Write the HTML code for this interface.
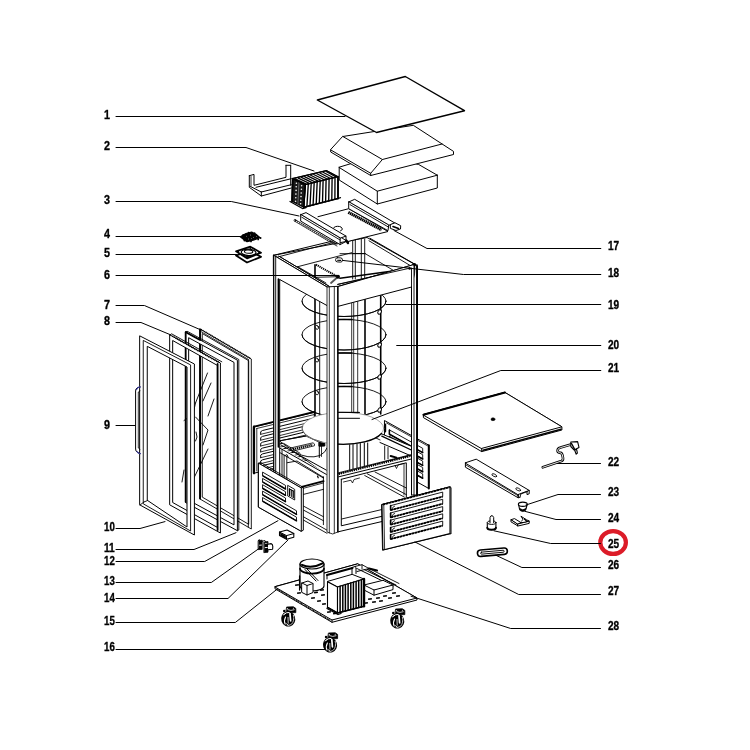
<!DOCTYPE html>
<html><head><meta charset="utf-8"><title>Exploded view</title>
<style>
html,body{margin:0;padding:0;background:#fff;}
body{width:750px;height:750px;overflow:hidden;font-family:"Liberation Sans",sans-serif;}
svg{display:block;}
.lb{font-family:"Liberation Sans",sans-serif;font-weight:bold;font-size:13.3px;fill:#000;stroke:#000;stroke-width:0.35px;}
</style></head><body>
<svg width="750" height="750" viewBox="0 0 750 750" stroke-linejoin="round" stroke-linecap="round">
<rect width="750" height="750" fill="#fff"/>
<defs><filter id="gs" x="0" y="0" width="750" height="750" filterUnits="userSpaceOnUse" color-interpolation-filters="sRGB"><feColorMatrix type="saturate" values="0"/></filter></defs><g filter="url(#gs)">
<text class="lb" x="104.0" y="119.0" textLength="6.0" lengthAdjust="spacingAndGlyphs">1</text>
<text class="lb" x="104.0" y="149.6" textLength="6.0" lengthAdjust="spacingAndGlyphs">2</text>
<text class="lb" x="104.0" y="203.6" textLength="6.0" lengthAdjust="spacingAndGlyphs">3</text>
<text class="lb" x="104.0" y="238.0" textLength="6.0" lengthAdjust="spacingAndGlyphs">4</text>
<text class="lb" x="104.0" y="257.0" textLength="6.0" lengthAdjust="spacingAndGlyphs">5</text>
<text class="lb" x="104.0" y="279.0" textLength="6.0" lengthAdjust="spacingAndGlyphs">6</text>
<text class="lb" x="104.0" y="309.0" textLength="6.0" lengthAdjust="spacingAndGlyphs">7</text>
<text class="lb" x="104.0" y="325.0" textLength="6.0" lengthAdjust="spacingAndGlyphs">8</text>
<text class="lb" x="104.0" y="429.0" textLength="6.0" lengthAdjust="spacingAndGlyphs">9</text>
<text class="lb" x="104.0" y="531.3" textLength="10.8" lengthAdjust="spacingAndGlyphs">10</text>
<text class="lb" x="104.0" y="552.0" textLength="10.8" lengthAdjust="spacingAndGlyphs">11</text>
<text class="lb" x="104.0" y="564.7" textLength="10.8" lengthAdjust="spacingAndGlyphs">12</text>
<text class="lb" x="104.0" y="585.0" textLength="10.8" lengthAdjust="spacingAndGlyphs">13</text>
<text class="lb" x="104.0" y="602.0" textLength="10.8" lengthAdjust="spacingAndGlyphs">14</text>
<text class="lb" x="104.0" y="625.0" textLength="10.8" lengthAdjust="spacingAndGlyphs">15</text>
<text class="lb" x="104.0" y="651.0" textLength="10.8" lengthAdjust="spacingAndGlyphs">16</text>
<text class="lb" x="608.0" y="249.9" textLength="11.2" lengthAdjust="spacingAndGlyphs">17</text>
<text class="lb" x="608.0" y="276.8" textLength="11.2" lengthAdjust="spacingAndGlyphs">18</text>
<text class="lb" x="608.0" y="308.5" textLength="11.2" lengthAdjust="spacingAndGlyphs">19</text>
<text class="lb" x="608.0" y="348.8" textLength="11.2" lengthAdjust="spacingAndGlyphs">20</text>
<text class="lb" x="608.0" y="371.5" textLength="11.2" lengthAdjust="spacingAndGlyphs">21</text>
<text class="lb" x="608.0" y="466.0" textLength="11.2" lengthAdjust="spacingAndGlyphs">22</text>
<text class="lb" x="608.0" y="495.9" textLength="11.2" lengthAdjust="spacingAndGlyphs">23</text>
<text class="lb" x="608.0" y="522.0" textLength="11.2" lengthAdjust="spacingAndGlyphs">24</text>
<text class="lb" x="608.0" y="547.9" textLength="11.2" lengthAdjust="spacingAndGlyphs">25</text>
<text class="lb" x="608.0" y="568.7" textLength="11.2" lengthAdjust="spacingAndGlyphs">26</text>
<text class="lb" x="608.0" y="595.3" textLength="11.2" lengthAdjust="spacingAndGlyphs">27</text>
<text class="lb" x="608.0" y="630.0" textLength="11.2" lengthAdjust="spacingAndGlyphs">28</text>
</g>
<ellipse cx="613.1" cy="542.5" rx="12.8" ry="11.4" fill="none" stroke="#dc1c28" stroke-width="4.2"/>
<path d="M339.2 167.5 L377.3 191.2 L437.3 175.2 L418.7 164.5 L380.0 155.0 Z" fill="#fff" stroke="#000" stroke-width="1" />
<path d="M339.2 167.5 L339.2 180.0 L377.3 204.0 L437.3 188.0 L437.3 175.2" fill="#fff" stroke="#000" stroke-width="1" />
<path d="M339.2 167.5 L377.3 191.2 L437.3 175.2" fill="none" stroke="#000" stroke-width="1" />
<path d="M377.3 191.2 L377.3 204.0" fill="none" stroke="#000" stroke-width="1" />
<path d="M330.7 149.9 L330.7 152.0 L370.7 175.5 L453.5 154.5 L453.5 151.4 L413.3 125.3 L342.9 136.5 Z" fill="#fff" stroke="#000" stroke-width="1" />
<path d="M342.9 136.5 L382.4 159.5 L442.0 144.0" fill="none" stroke="#000" stroke-width="1" />
<path d="M330.7 149.9 L370.7 173.3" fill="none" stroke="#000" stroke-width="1" />
<path d="M382.4 159.5 L370.7 173.3 L370.7 175.5" fill="none" stroke="#000" stroke-width="1" />
<path d="M317.3 100.0 L405.3 76.5 L464.5 110.7 L376.5 132.5 Z" fill="#fff" stroke="#000" stroke-width="1.4" />
<path d="M249.3 175.7 L254.0 174.4 L254.0 185.3 L286.0 177.3 L286.0 165.3" fill="none" stroke="#000" stroke-width="1" />
<path d="M290.7 165.3 L290.7 185.3" fill="none" stroke="#000" stroke-width="1" />
<path d="M286.0 165.3 L290.7 165.3" fill="none" stroke="#000" stroke-width="1" />
<path d="M249.3 175.7 L249.3 187.3 L261.3 196.0 L291.3 188.0" fill="none" stroke="#000" stroke-width="1" />
<path d="M261.3 192.0 L291.3 184.7" fill="none" stroke="#000" stroke-width="1" />
<path d="M261.3 192.0 L261.3 196.0" fill="none" stroke="#000" stroke-width="1" />
<path d="M250.5 186.5 L261.3 192.0" fill="none" stroke="#000" stroke-width="1" />
<path d="M256.0 187.3 L291.3 178.7" fill="none" stroke="#000" stroke-width="1" />
<path d="M251.0 176.5 L251.0 186.0" fill="none" stroke="#000" stroke-width="0.8" />
<path d="M292.7 178.7 L305.3 184.7 L338.0 176.7 L326.7 170.7 Z" fill="#fff" stroke="#000" stroke-width="1" />
<path d="M305.3 184.7 L303.8 207.3 L338.0 198.5 L338.0 176.7 Z" fill="#fff" stroke="#000" stroke-width="1.2" />
<path d="M292.7 178.7 L292.0 201.3 L303.8 207.3 L305.3 184.7 Z" fill="#1a1a1a" stroke="#000" stroke-width="1.2" />
<ellipse cx="296.4" cy="183.2" rx="0.8" ry="0.8" fill="#fff" stroke="none" stroke-width="0"/>
<ellipse cx="296.2" cy="186.8" rx="0.8" ry="0.8" fill="#fff" stroke="none" stroke-width="0"/>
<ellipse cx="296.1" cy="190.4" rx="0.8" ry="0.8" fill="#fff" stroke="none" stroke-width="0"/>
<ellipse cx="295.9" cy="194.1" rx="0.8" ry="0.8" fill="#fff" stroke="none" stroke-width="0"/>
<ellipse cx="295.8" cy="197.7" rx="0.8" ry="0.8" fill="#fff" stroke="none" stroke-width="0"/>
<ellipse cx="295.6" cy="201.3" rx="0.8" ry="0.8" fill="#fff" stroke="none" stroke-width="0"/>
<ellipse cx="301.6" cy="185.7" rx="0.8" ry="0.8" fill="#fff" stroke="none" stroke-width="0"/>
<ellipse cx="301.4" cy="189.3" rx="0.8" ry="0.8" fill="#fff" stroke="none" stroke-width="0"/>
<ellipse cx="301.2" cy="193.0" rx="0.8" ry="0.8" fill="#fff" stroke="none" stroke-width="0"/>
<ellipse cx="301.0" cy="196.6" rx="0.8" ry="0.8" fill="#fff" stroke="none" stroke-width="0"/>
<ellipse cx="300.8" cy="200.2" rx="0.8" ry="0.8" fill="#fff" stroke="none" stroke-width="0"/>
<ellipse cx="300.6" cy="203.8" rx="0.8" ry="0.8" fill="#fff" stroke="none" stroke-width="0"/>
<path d="M299.0 181.7 L297.9 204.3" fill="none" stroke="#bbb" stroke-width="0.5" />
<path d="M308.3 184.0 L306.9 206.5" fill="none" stroke="#000" stroke-width="1.35" />
<path d="M311.2 183.2 L310.0 205.7" fill="none" stroke="#000" stroke-width="1.35" />
<path d="M314.2 182.5 L313.1 204.9" fill="none" stroke="#000" stroke-width="1.35" />
<path d="M317.2 181.8 L316.2 204.1" fill="none" stroke="#000" stroke-width="1.35" />
<path d="M320.2 181.1 L319.3 203.3" fill="none" stroke="#000" stroke-width="1.35" />
<path d="M323.1 180.3 L322.5 202.5" fill="none" stroke="#000" stroke-width="1.35" />
<path d="M326.1 179.6 L325.6 201.7" fill="none" stroke="#000" stroke-width="1.35" />
<path d="M329.1 178.9 L328.7 200.9" fill="none" stroke="#000" stroke-width="1.35" />
<path d="M332.1 178.2 L331.8 200.1" fill="none" stroke="#000" stroke-width="1.35" />
<path d="M335.0 177.4 L334.9 199.3" fill="none" stroke="#000" stroke-width="1.35" />
<path d="M305.8 183.9 L295.2 178.8" fill="none" stroke="#000" stroke-width="1.25" />
<path d="M308.8 183.1 L298.3 178.1" fill="none" stroke="#000" stroke-width="1.25" />
<path d="M311.7 182.4 L301.4 177.4" fill="none" stroke="#000" stroke-width="1.25" />
<path d="M314.7 181.7 L304.5 176.6" fill="none" stroke="#000" stroke-width="1.25" />
<path d="M317.7 180.9 L307.6 175.9" fill="none" stroke="#000" stroke-width="1.25" />
<path d="M320.7 180.2 L310.7 175.2" fill="none" stroke="#000" stroke-width="1.25" />
<path d="M323.7 179.5 L313.7 174.5" fill="none" stroke="#000" stroke-width="1.25" />
<path d="M326.7 178.8 L316.8 173.7" fill="none" stroke="#000" stroke-width="1.25" />
<path d="M329.6 178.0 L319.9 173.0" fill="none" stroke="#000" stroke-width="1.25" />
<path d="M332.6 177.3 L323.0 172.3" fill="none" stroke="#000" stroke-width="1.25" />
<path d="M335.6 176.6 L326.1 171.5" fill="none" stroke="#000" stroke-width="1.25" />
<path d="M292.7 178.7 L305.3 184.7 L338.0 176.7 L326.7 170.7 Z" fill="none" stroke="#000" stroke-width="1.3" />
<path d="M292.7 178.7 L292.0 201.3" fill="none" stroke="#000" stroke-width="1.8" />
<path d="M305.3 184.7 L303.8 207.3" fill="none" stroke="#000" stroke-width="1.4" />
<path d="M338.0 176.7 L338.0 198.5" fill="none" stroke="#000" stroke-width="1.8" />
<path d="M303.8 207.3 L338.0 198.5" fill="none" stroke="#000" stroke-width="1.4" />
<path d="M290.0 201.5 L302.5 208.6 L306.0 207.6" fill="none" stroke="#000" stroke-width="1.2" />
<path d="M338.0 198.5 L340.5 197.6" fill="none" stroke="#000" stroke-width="1.2" />
<path d="M200.0 329.0 L251.3 359.0 L251.3 529.0 L200.0 499.0 Z M202.6 333.7 L248.7 360.7 L248.7 524.3 L202.6 497.3 Z" fill="#fff" fill-rule="evenodd" stroke="#000" stroke-width="0.9"/>
<path d="M200.0 331.0 L248.5 359.5" fill="none" stroke="#000" stroke-width="0.8" />
<path d="M200.1 329.5 L200.1 498.5" fill="none" stroke="#000" stroke-width="1.8"/>
<path d="M248.3 360.0 L248.3 527.0" fill="none" stroke="#000" stroke-width="0.9"/>
<path d="M201.0 329.5 L250.5 358.5" fill="none" stroke="#000" stroke-width="1.5" stroke-dasharray="1 0.8" stroke-linecap="butt"/>
<path d="M185.6 332.0 L237.4 360.2 L237.4 530.7 L185.6 502.5 Z M189.0 337.9 L234.0 362.4 L234.0 524.9 L189.0 500.4 Z" fill="#fff" fill-rule="evenodd" stroke="#000" stroke-width="1.0"/>
<path d="M185.6 332.0 L187.0 331.2 L238.8 359.5 L238.8 530.0 L237.4 530.8" fill="none" stroke="#000" stroke-width="0.9" />
<path d="M185.8 332.5 L185.8 502.0" fill="none" stroke="#000" stroke-width="1.6"/>
<path d="M185.8 332.3 L200.0 340.0" fill="none" stroke="#000" stroke-width="1.8" />
<path d="M170.0 335.0 L220.4 363.0 L220.4 533.0 L170.0 505.0 Z M173.0 340.7 L217.4 365.4 L217.4 527.4 L173.0 502.7 Z" fill="#fff" fill-rule="evenodd" stroke="#000" stroke-width="1.0"/>
<path d="M217.6 364.0 L217.6 530.0" fill="none" stroke="#000" stroke-width="1.8"/>
<path d="M172.4 336.0 L219.0 362.5" fill="none" stroke="#000" stroke-width="1.7" stroke-dasharray="1 0.8" stroke-linecap="butt"/>
<path d="M170.0 335.0 L171.6 333.8 L221.8 361.8" fill="none" stroke="#000" stroke-width="0.9" />
<path d="M207.5 373.0 L195.5 403.0" fill="none" stroke="#000" stroke-width="0.9" />
<path d="M211.0 383.0 L203.0 401.0" fill="none" stroke="#000" stroke-width="0.9" />
<path d="M184.0 420.5 L187.0 418.5" fill="none" stroke="#000" stroke-width="0.9" />
<path d="M195.5 403.0 L190.0 428.0" fill="none" stroke="#000" stroke-width="0.9" />
<path d="M214.0 399.0 L208.0 416.0" fill="none" stroke="#000" stroke-width="0.9" />
<path d="M195.5 417.0 L208.0 430.0 L203.0 445.0" fill="none" stroke="#000" stroke-width="0.9" />
<path d="M196.0 432.0 L197.0 437.0 L195.5 441.0" fill="none" stroke="#000" stroke-width="0.9" />
<path d="M208.0 449.0 L192.0 482.0" fill="none" stroke="#000" stroke-width="0.9" />
<path d="M184.0 470.0 L182.0 482.0" fill="none" stroke="#000" stroke-width="0.9" />
<path d="M140.0 336.0 L194.4 364.0 L194.4 535.0 L140.0 505.0 Z M147.6 346.5 L187.0 367.0 L187.0 527.0 L147.6 500.5 Z" fill="#fff" fill-rule="evenodd" stroke="#000" stroke-width="1.0"/>
<path d="M143.6 340.6 L190.6 364.9 L190.6 531.0 L143.6 504.0 Z" fill="none" stroke="#000" stroke-width="0.9" />
<path d="M144.0 502.0 L147.6 500.5" fill="none" stroke="#000" stroke-width="0.9" />
<path d="M140.0 505.0 L144.0 502.0" fill="none" stroke="#000" stroke-width="0.9" />
<path d="M140 387 L137.2 387.8 Q135.6 388.6 135.6 391 L135.6 449 Q135.6 451.4 137.4 452.4 L140 453.6" fill="none" stroke="#000" stroke-width="1"/>
<path d="M140 391 L138.3 392 L138.3 448 L140 449.3" fill="none" stroke="#000" stroke-width="0.8"/>
<path d="M136.5 389.5 Q138 386.6 140.5 387" fill="none" stroke="#3a3a9a" stroke-width="1.2"/>
<path d="M137 451.5 Q138.5 454 140.5 453.5" fill="none" stroke="#3a3a9a" stroke-width="1.2"/>
<path d="M253.7 427.0 L314.3 412.3 L314.3 458.6 L253.7 473.3 Z" fill="#fff" stroke="#000" stroke-width="1" />
<path d="M254.0 426.6 L254.0 473.3" fill="none" stroke="#000" stroke-width="2.2" />
<path d="M254.0 426.6 L314.3 411.9" fill="none" stroke="#000" stroke-width="1.8" />
<path d="M256.8 428.5 L256.8 471.0" fill="none" stroke="#000" stroke-width="0.8" />
<path d="M256.8 428.5 L314.0 414.6" fill="none" stroke="#000" stroke-width="0.8" />
<path d="M260.7 434.3 L260.7 431.7 L262.5 430.5 L314.0 418.1" fill="none" stroke="#000" stroke-width="1.0" />
<path d="M260.7 434.3 L314.0 421.3" fill="none" stroke="#000" stroke-width="0.8" />
<path d="M260.7 440.2 L260.7 437.6 L262.5 436.4 L314.0 423.9" fill="none" stroke="#000" stroke-width="1.0" />
<path d="M260.7 440.2 L314.0 427.2" fill="none" stroke="#000" stroke-width="0.8" />
<path d="M260.7 446.0 L260.7 443.4 L262.5 442.2 L314.0 429.8" fill="none" stroke="#000" stroke-width="1.0" />
<path d="M260.7 446.0 L314.0 433.0" fill="none" stroke="#000" stroke-width="0.8" />
<path d="M260.7 451.9 L260.7 449.2 L262.5 448.1 L314.0 435.6" fill="none" stroke="#000" stroke-width="1.0" />
<path d="M260.7 451.9 L314.0 438.9" fill="none" stroke="#000" stroke-width="0.8" />
<path d="M260.7 457.7 L260.7 455.1 L262.5 453.9 L314.0 441.5" fill="none" stroke="#000" stroke-width="1.0" />
<path d="M260.7 457.7 L314.0 444.7" fill="none" stroke="#000" stroke-width="0.8" />
<path d="M260.7 463.6 L260.7 460.9 L262.5 459.8 L314.0 447.3" fill="none" stroke="#000" stroke-width="1.0" />
<path d="M260.7 463.6 L314.0 450.6" fill="none" stroke="#000" stroke-width="0.8" />
<path d="M260.7 469.4 L260.7 466.8 L262.5 465.6 L314.0 453.2" fill="none" stroke="#000" stroke-width="1.0" />
<path d="M260.7 469.4 L314.0 456.4" fill="none" stroke="#000" stroke-width="0.8" />
<path d="M384.8 420.7 L428.8 445.2 L428.8 488.5 L384.8 464.0 Z" fill="#fff" stroke="#000" stroke-width="1" />
<path d="M428.8 445.2 L428.8 488.5" fill="none" stroke="#000" stroke-width="2.0" />
<path d="M385.3 424.5 L385.3 431.5" fill="none" stroke="#000" stroke-width="1.8" />
<path d="M386.5 423.0 L427.5 445.8" fill="none" stroke="#000" stroke-width="0.8" />
<path d="M389.5 430.0 L422.7 448.3 L422.7 452.6 L389.5 434.3 Z" fill="#fff" stroke="#000" stroke-width="0.9" />
<path d="M389.5 434.3 L422.7 452.6" fill="none" stroke="#000" stroke-width="1.6" />
<path d="M389.5 430.0 L389.5 434.3" fill="none" stroke="#000" stroke-width="1.3" />
<path d="M389.5 436.4 L422.7 454.7 L422.7 459.0 L389.5 440.7 Z" fill="#fff" stroke="#000" stroke-width="0.9" />
<path d="M389.5 440.7 L422.7 459.0" fill="none" stroke="#000" stroke-width="1.6" />
<path d="M389.5 436.4 L389.5 440.7" fill="none" stroke="#000" stroke-width="1.3" />
<path d="M389.5 442.8 L422.7 461.1 L422.7 465.4 L389.5 447.1 Z" fill="#fff" stroke="#000" stroke-width="0.9" />
<path d="M389.5 447.1 L422.7 465.4" fill="none" stroke="#000" stroke-width="1.6" />
<path d="M389.5 442.8 L389.5 447.1" fill="none" stroke="#000" stroke-width="1.3" />
<path d="M389.5 449.2 L422.7 467.5 L422.7 471.8 L389.5 453.5 Z" fill="#fff" stroke="#000" stroke-width="0.9" />
<path d="M389.5 453.5 L422.7 471.8" fill="none" stroke="#000" stroke-width="1.6" />
<path d="M389.5 449.2 L389.5 453.5" fill="none" stroke="#000" stroke-width="1.3" />
<path d="M389.5 455.6 L422.7 473.9 L422.7 478.2 L389.5 459.9 Z" fill="#fff" stroke="#000" stroke-width="0.9" />
<path d="M389.5 459.9 L422.7 478.2" fill="none" stroke="#000" stroke-width="1.6" />
<path d="M389.5 455.6 L389.5 459.9" fill="none" stroke="#000" stroke-width="1.3" />
<ellipse cx="344.0" cy="301.2" rx="42.0" ry="15.3" fill="none" stroke="#000" stroke-width="0.9"/>
<ellipse cx="344.0" cy="334.7" rx="42.0" ry="15.3" fill="none" stroke="#000" stroke-width="0.9"/>
<ellipse cx="344.0" cy="368.2" rx="42.0" ry="15.3" fill="none" stroke="#000" stroke-width="0.9"/>
<ellipse cx="344.0" cy="401.7" rx="42.0" ry="15.3" fill="none" stroke="#000" stroke-width="0.9"/>
<path d="M351.7 279.0 L351.7 420.0 M353.7 279.0 L353.7 420.0 M357.7 279.0 L357.7 420.0" fill="none" stroke="#000" stroke-width="0.8"/>
<path d="M365.0 279.0 L365.0 420.0" fill="none" stroke="#000" stroke-width="1.6"/>
<path d="M302 301.2 A42 15.3 0 0 0 386 301.2" fill="none" stroke="#000" stroke-width="0.9"/>
<path d="M302 334.7 A42 15.3 0 0 0 386 334.7" fill="none" stroke="#000" stroke-width="0.9"/>
<path d="M302 368.2 A42 15.3 0 0 0 386 368.2" fill="none" stroke="#000" stroke-width="0.9"/>
<path d="M302 401.7 A42 15.3 0 0 0 386 401.7" fill="none" stroke="#000" stroke-width="0.9"/>
<path d="M338.5 319.5 L352.0 319.4" fill="none" stroke="#000" stroke-width="1.5" />
<path d="M338.5 353.0 L352.0 352.9" fill="none" stroke="#000" stroke-width="1.5" />
<path d="M338.5 386.5 L352.0 386.4" fill="none" stroke="#000" stroke-width="1.5" />
<path d="M315.0 296.0 L315.0 420.0" fill="none" stroke="#000" stroke-width="1.6"/>
<path d="M319.7 296.0 L319.7 416.0" fill="none" stroke="#000" stroke-width="0.9"/>
<path d="M380.7 294.0 L380.7 414.0" fill="none" stroke="#000" stroke-width="1.6"/>
<ellipse cx="379.6" cy="312.0" rx="1.6" ry="2.3" fill="#fff" stroke="#000" stroke-width="0.9" transform="rotate(30 379.6 312)"/>
<ellipse cx="379.6" cy="345.0" rx="1.6" ry="2.3" fill="#fff" stroke="#000" stroke-width="0.9" transform="rotate(30 379.6 345)"/>
<ellipse cx="379.6" cy="377.0" rx="1.6" ry="2.3" fill="#fff" stroke="#000" stroke-width="0.9" transform="rotate(30 379.6 377)"/>
<ellipse cx="379.6" cy="410.0" rx="1.6" ry="2.3" fill="#fff" stroke="#000" stroke-width="0.9" transform="rotate(30 379.6 410)"/>
<ellipse cx="316.9" cy="327.3" rx="1.5" ry="2.1" fill="#fff" stroke="#000" stroke-width="0.9" transform="rotate(-20 316.9 327.3)"/>
<ellipse cx="316.9" cy="360.0" rx="1.5" ry="2.1" fill="#fff" stroke="#000" stroke-width="0.9" transform="rotate(-20 316.9 360)"/>
<ellipse cx="316.9" cy="392.7" rx="1.5" ry="2.1" fill="#fff" stroke="#000" stroke-width="0.9" transform="rotate(-20 316.9 392.7)"/>
<path d="M279.7 440.8 L345.0 428.8 L367.0 433.7 L411.3 455.0 L337.7 474.0 L327.0 475.0 Z" fill="#fff" stroke="#000" stroke-width="0.9" />
<path d="M381.5 433.8 L411.3 446.3 L411.3 456.0 L380.0 442.5 Z" fill="#fff" stroke="#fff" stroke-width="0.1" />
<path d="M381.5 433.8 L411.3 446.3" fill="none" stroke="#000" stroke-width="1.0" />
<path d="M381.8 436.2 L411.3 450.0" fill="none" stroke="#000" stroke-width="1.3" />
<path d="M380.0 442.5 L411.3 456.0" fill="none" stroke="#000" stroke-width="1.0" />
<path d="M384.7 446.0 L384.7 459.5 M388.0 447.5 L388.0 458.8" fill="none" stroke="#000" stroke-width="0.9"/>
<path d="M390.7 456.0 L396.5 457.6" fill="none" stroke="#000" stroke-width="2.0" />
<path d="M279.7 440.8 L306.0 436.0" fill="none" stroke="#000" stroke-width="0.9" />
<path d="M278.3 446.0 L327.0 473.4 L327.0 533.0 L278.3 507.0 Z" fill="#fff" stroke="#fff" stroke-width="0.1" />
<path d="M292.9 449.2 L312.6 444.6" fill="none" stroke="#000" stroke-width="2.2" stroke-dasharray="1.3 0.7" stroke-linecap="butt"/>
<path d="M290.5 448 L313 442.8 Q315.3 443.6 314.4 445.8 L292.5 451.2 Q289.7 450.6 290.5 448 Z" fill="none" stroke="#000" stroke-width="0.8"/>
<path d="M284.0 443.5 L300.0 453.2" fill="none" stroke="#000" stroke-width="0.8" />
<path d="M296 452.5 Q308 459.5 320 455.5 Q326 452 327 448" fill="none" stroke="#000" stroke-width="0.9"/>
<path d="M319.3 442.5 L319.3 457.5" fill="none" stroke="#000" stroke-width="1.0" />
<path d="M321.5 446.0 L321.5 456.5" fill="none" stroke="#000" stroke-width="0.8" />
<path d="M319.3 442.5 L324.8 443.0 L324.8 446.0 L319.3 446.2 Z" fill="#000" stroke="#000" stroke-width="1" />
<path d="M307.0 436.5 L320.0 442.5" fill="none" stroke="#000" stroke-width="0.9" />
<path d="M349.7 444.0 L349.7 469.5 M353.0 444.0 L353.0 468.7 M357.0 444.0 L357.0 467.7 M360.3 443.5 L360.3 466.9 M364.3 443.0 L364.3 465.9 M367.7 443.0 L367.7 465.0" fill="none" stroke="#000" stroke-width="1.0"/>
<path d="M339.0 412.3 L359.0 412.3" fill="none" stroke="#000" stroke-width="0.9" />
<path d="M339.0 418.3 L359.0 418.3" fill="none" stroke="#000" stroke-width="0.9" />
<path d="M281.0 445.0 L326.3 470.1" fill="none" stroke="#000" stroke-width="1" />
<path d="M278.3 447.2 L326.3 474.4" fill="none" stroke="#000" stroke-width="1" />
<path d="M278.8 452.0 L323.6 478.1" fill="none" stroke="#000" stroke-width="0.9" />
<path d="M278.8 447.5 L278.8 476.0 M282.0 449.5 L282.0 477.0 M284.1 455.0 L284.1 478.0 M286.8 456.5 L286.8 479.5" fill="none" stroke="#000" stroke-width="0.9"/>
<path d="M285.2 455.5 L287.0 454.6 L288.2 457.2" fill="none" stroke="#000" stroke-width="0.9" />
<path d="M287.3 462.7 L297.0 461.0 L323.6 477.5" fill="none" stroke="#000" stroke-width="0.9" />
<path d="M301.7 486.9 L323.6 481.2" fill="none" stroke="#000" stroke-width="1.8" />
<path d="M302.3 488.6 L323.6 482.9" fill="none" stroke="#000" stroke-width="0.8" />
<path d="M302.3 494.7 L323.6 489.3" fill="none" stroke="#000" stroke-width="0.9" />
<path d="M323.4 476.7 L323.4 524.7" fill="none" stroke="#000" stroke-width="0.9" />
<path d="M303.3 506.0 L323.4 516.7" fill="none" stroke="#000" stroke-width="0.9" />
<path d="M303.3 510.0 L323.4 520.7" fill="none" stroke="#000" stroke-width="0.9" />
<path d="M303.3 516.7 L326.7 530.0" fill="none" stroke="#000" stroke-width="0.9" />
<path d="M303.3 520.0 L327.0 533.3" fill="none" stroke="#000" stroke-width="0.9" />
<path d="M317.5 476.0 L318.2 477.8" fill="none" stroke="#000" stroke-width="1.2" />
<path d="M337.7 474.5 L411.5 456.0 L411.5 496.0 L337.7 533.0 Z" fill="#fff" stroke="#fff" stroke-width="0.1" />
<path d="M338.7 473.9 L411.5 455.7" fill="none" stroke="#000" stroke-width="2.2" stroke-dasharray="1.3 0.9" stroke-linecap="butt"/>
<path d="M338.7 472.7 L411.5 454.5" fill="none" stroke="#000" stroke-width="0.8" />
<path d="M338.7 476.8 L411.3 459.0" fill="none" stroke="#000" stroke-width="1" />
<path d="M341.3 479.3 L406.3 462.8 L406.3 497.0" fill="none" stroke="#000" stroke-width="1" />
<path d="M341.3 479.3 L341.3 525.8 L382.0 516.3" fill="none" stroke="#000" stroke-width="1" />
<path d="M341.7 519.0 L382.0 509.5" fill="none" stroke="#000" stroke-width="0.9" />
<path d="M343.5 482.0 L351.0 480.2 L352.5 483.0 L354.0 479.5 L359.5 478.0" fill="none" stroke="#000" stroke-width="0.8" />
<path d="M395.0 465.5 L396.5 468.5 L398.0 465.0 L404.0 463.4 L404.0 495.0" fill="none" stroke="#000" stroke-width="0.8" />
<path d="M338.2 531.8 L382.5 521.4" fill="none" stroke="#000" stroke-width="1" />
<path d="M364.7 475.5 L404.5 497.2" fill="none" stroke="#000" stroke-width="0.9" />
<path d="M367.3 473.8 L406.3 494.6" fill="none" stroke="#000" stroke-width="0.9" />
<path d="M375.0 472.0 L406.3 488.0" fill="none" stroke="#000" stroke-width="0.9" />
<ellipse cx="343.0" cy="428.3" rx="40.7" ry="16.0" fill="#fff" stroke="#9a9a9a" stroke-width="0.9"/>
<path d="M338 444.2 A40.7 16 0 0 0 381.5 433.5" fill="none" stroke="#000" stroke-width="1.2"/>
<path d="M302.4 426 A40.7 16 0 0 0 322 442" fill="none" stroke="#555" stroke-width="0.9"/>
<path d="M338.5 412.4 L359.5 412.6" fill="none" stroke="#000" stroke-width="1.0" />
<path d="M338.5 418.3 L359.5 418.3" fill="none" stroke="#000" stroke-width="1.0" />
<path d="M273.7 255.3 L367.0 237.5 L414.7 264.3 L337.5 286.7 L327.5 287.3 Z" fill="#fff" stroke="#000" stroke-width="1" />
<path d="M297.7 266.7 L351.7 252.7" fill="none" stroke="#000" stroke-width="0.9" />
<path d="M297.7 266.7 L326.0 283.0" fill="none" stroke="#000" stroke-width="0.9" />
<path d="M365.3 253.7 L393.3 270.3" fill="none" stroke="#000" stroke-width="0.9" />
<path d="M340.0 253.7 L365.3 253.7" fill="none" stroke="#000" stroke-width="0.9" />
<path d="M340.0 278.3 L409.3 268.8" fill="none" stroke="#000" stroke-width="1.6" />
<path d="M337.7 284.5 L409.3 268.8" fill="none" stroke="#000" stroke-width="0.9" />
<path d="M352.7 239.0 L352.7 279.0 M355.3 239.0 L355.3 279.0 M361.3 239.0 L361.3 279.0 M364.7 239.0 L364.7 279.0" fill="none" stroke="#000" stroke-width="0.9"/>
<path d="M352.7 253.5 L364.7 253.5" fill="none" stroke="#000" stroke-width="0.9" />
<path d="M315.0 264.7 L315.0 277.3" fill="none" stroke="#000" stroke-width="1.6" />
<path d="M316.0 264.7 L337.7 276.7" fill="none" stroke="#000" stroke-width="2.0" stroke-dasharray="1.2 0.8" stroke-linecap="butt"/>
<path d="M315.0 277.3 L337.7 276.7" fill="none" stroke="#000" stroke-width="0.9" />
<path d="M331.0 283.0 L337.7 277.0" fill="none" stroke="#555" stroke-width="1.8" />
<circle cx="338" cy="276.8" r="2" fill="#000"/>
<rect x="335.6" y="257.8" width="6.8" height="4.2" rx="1.8" fill="#fff" stroke="#000" stroke-width="0.9" transform="rotate(4 339 260)"/>
<path d="M337.6 260.2 L340.6 260.4" fill="none" stroke="#000" stroke-width="1.1" />
<path d="M273.7 255.3 L327.5 287.3" fill="none" stroke="#000" stroke-width="1" />
<path d="M279.0 256.2 L329.0 286.2" fill="none" stroke="#000" stroke-width="0.9" />
<path d="M273.7 255.3 L339.7 239.3" fill="none" stroke="#000" stroke-width="1" />
<path d="M277.0 257.2 L337.0 241.5" fill="none" stroke="#000" stroke-width="0.9" />
<path d="M337.5 286.7 L412.7 266.3" fill="none" stroke="#000" stroke-width="1" />
<path d="M370.0 238.3 L414.0 263.7" fill="none" stroke="#000" stroke-width="1" />
<path d="M369.0 240.8 L411.5 266.3" fill="none" stroke="#000" stroke-width="0.9" />
<circle cx="413.6" cy="265.3" r="1.7" fill="#000"/>
<path d="M273.7 255.3 L327.5 287.3 L327.5 305.8 L279.7 279.5 L273.7 276.0 Z" fill="#fff" stroke="#000" stroke-width="1" />
<path d="M337.5 286.7 L414.7 264.3 L414.7 286.2 L337.5 306.5 Z" fill="#fff" stroke="#000" stroke-width="1" />
<path d="M279.0 256.2 L329.0 286.2" fill="none" stroke="#000" stroke-width="0.9" />
<path d="M337.7 284.3 L409.3 268.3" fill="none" stroke="#000" stroke-width="0.9" />
<path d="M273.7 255.3 L273.7 475.0 L279.7 475.0 L279.7 279.5" fill="#fff" stroke="#000" stroke-width="1" />
<path d="M273.7 255.3 L273.7 475.0 M275.7 257.0 L275.7 475.0" fill="none" stroke="#000" stroke-width="0.9"/>
<path d="M278.4 279.0 L278.4 447.0" fill="none" stroke="#000" stroke-width="1.6"/>
<path d="M411.5 287.0 L411.5 495.0 L417.5 495.0 L417.5 266.0" fill="#fff" stroke="#000" stroke-width="1" />
<path d="M411.5 268.0 L411.5 495.0 M414.0 266.0 L414.0 495.0" fill="none" stroke="#000" stroke-width="0.9"/>
<path d="M416.9 265.0 L416.9 495.0" fill="none" stroke="#000" stroke-width="1.7"/>
<path d="M327.0 287.3 L327.0 532.0 L332.7 534.0 L337.7 532.0 L337.7 286.7 Z" fill="#fff" stroke="#000" stroke-width="0.8" />
<path d="M329.3 287.0 L329.3 533.0 M334.3 287.0 L334.3 533.0" fill="none" stroke="#000" stroke-width="0.8"/>
<path d="M337.9 287.0 L337.9 532.0" fill="none" stroke="#000" stroke-width="1.4"/>
<circle cx="414.6" cy="264.6" r="1.6" fill="#000"/>
<circle cx="409.6" cy="268.4" r="1.3" fill="#000"/>
<path d="M318.0 216.7 L348.7 208.7 L388.0 231.5 L347.5 241.6 L318.0 222.0" fill="#fff" stroke="#000" stroke-width="1" />
<path d="M332.7 229.5 A4.8 3.2 0 0 1 342.3 229.5 L340.5 230.8" fill="#fff" stroke="#000" stroke-width="1"/>
<path d="M348.7 202.0 L354.7 199.3 L395.3 223.3 L388.7 225.3 Z" fill="#fff" stroke="#000" stroke-width="1" />
<path d="M348.7 202.0 L348.7 208.7 L388.0 230.7 L388.7 225.3 Z" fill="#fff" stroke="#000" stroke-width="1" />
<path d="M350.0 204.6 L388.7 227.2" fill="none" stroke="#000" stroke-width="0.9" />
<path d="M390.7 224.4 L395.0 222.8 L400.7 225.7 L400.5 229.0 L396.0 230.5 L390.7 228.5 Z" fill="#fff" stroke="#000" stroke-width="1" />
<path d="M393.0 226.5 L398.5 228.5" fill="none" stroke="#000" stroke-width="1.6" />
<path d="M348.3 212.3 L381.5 229.8" fill="none" stroke="#000" stroke-width="3.0" stroke-dasharray="1.5 0.45" stroke-linecap="butt"/>
<path d="M300.7 214.7 L306.0 212.6 L346.0 236.1 L340.1 238.2 Z" fill="#fff" stroke="#000" stroke-width="1" />
<path d="M300.7 214.7 L300.7 221.1 L340.1 244.6 L340.1 238.2 Z" fill="#fff" stroke="#000" stroke-width="1" />
<path d="M301.7 217.2 L340.1 240.0" fill="none" stroke="#000" stroke-width="0.9" />
<path d="M346.0 236.1 L346.0 241.5 L340.1 244.6" fill="none" stroke="#000" stroke-width="1" />
<path d="M346.3 240.5 L348.0 243.0" fill="none" stroke="#000" stroke-width="2.4" />
<path d="M295.2 220.4 L337.0 245.2" fill="none" stroke="#555" stroke-width="1.8" stroke-dasharray="1.0 1.2" stroke-linecap="butt"/>
<path d="M295.2 219.6 L337.0 244.4" fill="none" stroke="#000" stroke-width="0.7" />
<path d="M294.8 221.3 L337.0 246.1" fill="none" stroke="#000" stroke-width="0.7" />
<ellipse cx="295.0" cy="220.4" rx="1.0" ry="1.0" fill="none" stroke="#000" stroke-width="0.7"/>
<path d="M258.7 463.3 L301.3 488.0 L303.3 487.2 L303.3 530.2 L301.3 531.3 L258.7 507.3 Z" fill="#fff" stroke="#000" stroke-width="1" />
<path d="M258.7 463.3 L301.3 488.0 L301.3 531.3 L258.7 507.3 Z" fill="#fff" stroke="#000" stroke-width="1" />
<path d="M258.7 463.3 L260.3 462.3 L302.9 487.2" fill="none" stroke="#000" stroke-width="0.9" />
<path d="M262.9 472.3 L285.5 485.4 L285.5 489.0 L262.9 475.9 Z" fill="#fff" stroke="#000" stroke-width="0.9" />
<path d="M262.9 475.9 L285.5 489.0" fill="none" stroke="#000" stroke-width="1.5" />
<path d="M262.9 478.6 L285.5 491.7 L285.5 495.3 L262.9 482.2 Z" fill="#fff" stroke="#000" stroke-width="0.9" />
<path d="M262.9 482.2 L285.5 495.3" fill="none" stroke="#000" stroke-width="1.5" />
<path d="M262.9 484.9 L285.5 498.0 L285.5 501.6 L262.9 488.5 Z" fill="#fff" stroke="#000" stroke-width="0.9" />
<path d="M262.9 488.5 L285.5 501.6" fill="none" stroke="#000" stroke-width="1.5" />
<path d="M262.9 491.3 L296.5 510.8 L296.5 514.4 L262.9 494.9 Z" fill="#fff" stroke="#000" stroke-width="0.9" />
<path d="M262.9 494.9 L296.5 514.4" fill="none" stroke="#000" stroke-width="1.5" />
<path d="M262.9 497.7 L296.5 517.2 L296.5 520.8 L262.9 501.3 Z" fill="#fff" stroke="#000" stroke-width="0.9" />
<path d="M262.9 501.3 L296.5 520.8" fill="none" stroke="#000" stroke-width="1.5" />
<path d="M288.0 485.5 L294.7 489.4 L294.7 500.0 L288.0 496.1 Z" fill="#fff" stroke="#000" stroke-width="0.9" />
<path d="M289.5 489.0 L289.5 495.5" fill="none" stroke="#000" stroke-width="1.3" />
<path d="M291.3 490.0 L291.3 496.5" fill="none" stroke="#000" stroke-width="1.0" />
<path d="M293.2 491.0 L293.2 497.7" fill="none" stroke="#000" stroke-width="1.3" />
<path d="M289.5 489.0 L293.2 491.0" fill="none" stroke="#000" stroke-width="1.0" />
<path d="M382.0 504.5 L450.0 486.8 L451.0 487.5 L451.0 534.0 L450.0 533.6 L382.9 550.0 Z" fill="#fff" stroke="#000" stroke-width="1" />
<path d="M382.0 504.5 L450.0 486.8 L450.0 533.6 L382.9 550.0 Z" fill="#fff" stroke="#000" stroke-width="1.1" />
<path d="M383.0 504.6 L449.5 487.3" fill="none" stroke="#000" stroke-width="1.7" stroke-dasharray="2.4 0.7" stroke-linecap="butt"/>
<path d="M383.8 505.0 L384.6 548.8" fill="none" stroke="#000" stroke-width="0.8" />
<path d="M390.7 505.6 L442.7 492.1 L442.7 496.6 L390.7 510.1 Z" fill="#fff" stroke="#000" stroke-width="0.9" />
<path d="M390.7 510.1 L442.7 496.6" fill="none" stroke="#000" stroke-width="1.8" stroke-dasharray="2.4 0.7" stroke-linecap="butt"/>
<path d="M390.7 505.6 L390.7 510.1" fill="none" stroke="#000" stroke-width="1.5" />
<path d="M391.9 509.5 L392.9 507.2 L394.7 506.2" fill="none" stroke="#000" stroke-width="0.8" />
<path d="M390.7 512.9 L442.7 499.3 L442.7 503.8 L390.7 517.4 Z" fill="#fff" stroke="#000" stroke-width="0.9" />
<path d="M390.7 517.4 L442.7 503.8" fill="none" stroke="#000" stroke-width="1.8" stroke-dasharray="2.4 0.7" stroke-linecap="butt"/>
<path d="M390.7 512.9 L390.7 517.4" fill="none" stroke="#000" stroke-width="1.5" />
<path d="M391.9 516.8 L392.9 514.5 L394.7 513.5" fill="none" stroke="#000" stroke-width="0.8" />
<path d="M390.7 520.1 L442.7 506.6 L442.7 511.1 L390.7 524.6 Z" fill="#fff" stroke="#000" stroke-width="0.9" />
<path d="M390.7 524.6 L442.7 511.1" fill="none" stroke="#000" stroke-width="1.8" stroke-dasharray="2.4 0.7" stroke-linecap="butt"/>
<path d="M390.7 520.1 L390.7 524.6" fill="none" stroke="#000" stroke-width="1.5" />
<path d="M391.9 524.0 L392.9 521.7 L394.7 520.7" fill="none" stroke="#000" stroke-width="0.8" />
<path d="M390.7 527.4 L442.7 513.8 L442.7 518.3 L390.7 531.9 Z" fill="#fff" stroke="#000" stroke-width="0.9" />
<path d="M390.7 531.9 L442.7 518.3" fill="none" stroke="#000" stroke-width="1.8" stroke-dasharray="2.4 0.7" stroke-linecap="butt"/>
<path d="M390.7 527.4 L390.7 531.9" fill="none" stroke="#000" stroke-width="1.5" />
<path d="M391.9 531.2 L392.9 529.0 L394.7 528.0" fill="none" stroke="#000" stroke-width="0.8" />
<path d="M390.7 534.6 L442.7 521.1 L442.7 525.6 L390.7 539.1 Z" fill="#fff" stroke="#000" stroke-width="0.9" />
<path d="M390.7 539.1 L442.7 525.6" fill="none" stroke="#000" stroke-width="1.8" stroke-dasharray="2.4 0.7" stroke-linecap="butt"/>
<path d="M390.7 534.6 L390.7 539.1" fill="none" stroke="#000" stroke-width="1.5" />
<path d="M391.9 538.5 L392.9 536.2 L394.7 535.2" fill="none" stroke="#000" stroke-width="0.8" />
<path d="M275.0 587.0 L275.0 588.8 L332.0 622.3 L417.0 600.0 L417.0 598.0 L358.0 564.0 Z" fill="#fff" stroke="#000" stroke-width="1" />
<path d="M275.0 587.0 L332.0 620.0 L417.0 598.0 L358.0 564.0 Z" fill="#fff" stroke="#000" stroke-width="1" />
<path d="M332.0 620.0 L332.0 622.3" fill="none" stroke="#000" stroke-width="1" />
<path d="M277.0 589.0 L331.0 620.8" fill="none" stroke="#000" stroke-width="0.9" stroke-dasharray="3 1.5"/>
<path d="M295.1 585.3 L298.9 584.7" fill="none" stroke="#000" stroke-width="1.6" stroke-linecap="butt"/>
<path d="M297.1 593.3 L300.9 592.7" fill="none" stroke="#000" stroke-width="1.6" stroke-linecap="butt"/>
<path d="M311.1 598.3 L314.9 597.7" fill="none" stroke="#000" stroke-width="1.6" stroke-linecap="butt"/>
<path d="M317.1 601.3 L320.9 600.7" fill="none" stroke="#000" stroke-width="1.6" stroke-linecap="butt"/>
<path d="M322.1 604.3 L325.9 603.7" fill="none" stroke="#000" stroke-width="1.6" stroke-linecap="butt"/>
<path d="M321.1 595.3 L324.9 594.7" fill="none" stroke="#000" stroke-width="1.6" stroke-linecap="butt"/>
<path d="M320.1 590.3 L323.9 589.7" fill="none" stroke="#000" stroke-width="1.6" stroke-linecap="butt"/>
<path d="M314.1 592.8 L317.9 592.2" fill="none" stroke="#000" stroke-width="1.6" stroke-linecap="butt"/>
<path d="M368.1 599.3 L371.9 598.7" fill="none" stroke="#000" stroke-width="1.6" stroke-linecap="butt"/>
<path d="M372.1 602.3 L375.9 601.7" fill="none" stroke="#000" stroke-width="1.6" stroke-linecap="butt"/>
<path d="M376.1 598.3 L379.9 597.7" fill="none" stroke="#000" stroke-width="1.6" stroke-linecap="butt"/>
<path d="M383.1 596.3 L386.9 595.7" fill="none" stroke="#000" stroke-width="1.6" stroke-linecap="butt"/>
<path d="M388.1 598.3 L391.9 597.7" fill="none" stroke="#000" stroke-width="1.6" stroke-linecap="butt"/>
<path d="M392.1 593.3 L395.9 592.7" fill="none" stroke="#000" stroke-width="1.6" stroke-linecap="butt"/>
<path d="M396.1 596.3 L399.9 595.7" fill="none" stroke="#000" stroke-width="1.6" stroke-linecap="butt"/>
<path d="M379.1 601.3 L382.9 600.7" fill="none" stroke="#000" stroke-width="1.6" stroke-linecap="butt"/>
<path d="M364.1 603.3 L367.9 602.7" fill="none" stroke="#000" stroke-width="1.6" stroke-linecap="butt"/>
<path d="M327.1 612.3 L330.9 611.7" fill="none" stroke="#000" stroke-width="1.6" stroke-linecap="butt"/>
<path d="M333.1 613.8 L336.9 613.2" fill="none" stroke="#000" stroke-width="1.6" stroke-linecap="butt"/>
<path d="M352.0 567.5 L356.0 566.2 L356.0 573.5" fill="none" stroke="#000" stroke-width="1.0" />
<path d="M352.5 568.0 L327.0 575.0" fill="none" stroke="#000" stroke-width="2.0" />
<path d="M327.0 575.0 L327.0 579.0" fill="none" stroke="#000" stroke-width="1.0" />
<path d="M352.0 567.5 L352.0 574.0" fill="none" stroke="#000" stroke-width="1.0" />
<path d="M356.0 566.2 L362.0 564.7 L369.0 568.5 L361.0 570.5 L356.0 568.0" fill="#fff" stroke="#000" stroke-width="0.9" />
<path d="M362.0 564.7 L362.0 569.0" fill="none" stroke="#000" stroke-width="0.9" />
<path d="M357.0 571.5 L361.0 570.5 L393.0 586.0" fill="none" stroke="#000" stroke-width="1.0" />
<path d="M364.0 569.5 L396.0 585.0" fill="none" stroke="#000" stroke-width="1.0" />
<path d="M369.0 568.5 L377.0 570.5" fill="none" stroke="#000" stroke-width="2.2" />
<path d="M369.0 568.5 L399.0 583.5" fill="none" stroke="#000" stroke-width="0.9" />
<path d="M364.0 585.0 L374.0 590.0 L393.0 585.0 L393.0 589.6 L374.0 595.2 L364.0 590.0 Z" fill="#fff" stroke="#000" stroke-width="1" />
<path d="M374.0 590.0 L374.0 595.2" fill="none" stroke="#000" stroke-width="1" />
<path d="M364.0 585.0 L383.0 580.3 L393.0 585.0" fill="#fff" stroke="#000" stroke-width="1" />
<path d="M300 564 L300 586 A12 5 0 0 0 324 586 L324 564 Z" fill="#fff" stroke="#000" stroke-width="1.1"/>
<ellipse cx="312.0" cy="564.0" rx="12.0" ry="5.0" fill="#fff" stroke="#000" stroke-width="1.2"/>
<path d="M300 568.6 A12 5 0 0 0 324 568.6" fill="none" stroke="#000" stroke-width="1.7"/>
<path d="M302 564.8 Q311 569.3 322.5 563.3" fill="none" stroke="#000" stroke-width="2.0"/>
<path d="M305.0 569.5 L316.0 581.0" fill="none" stroke="#000" stroke-width="1.0" />
<path d="M307.0 569.0 L318.0 580.5" fill="none" stroke="#000" stroke-width="1.0" />
<path d="M299.6 576.0 L299.6 590.0" fill="none" stroke="#000" stroke-width="1.3" />
<path d="M302.0 583.0 L307.0 585.5 L313.0 583.5 L313.0 592.5 L307.0 595.0 L302.0 592.5 Z" fill="#fff" stroke="#000" stroke-width="1" />
<path d="M302.0 583.0 L308.0 581.0 L313.0 583.5" fill="#fff" stroke="#000" stroke-width="1" />
<path d="M307.0 585.5 L307.0 595.0" fill="none" stroke="#000" stroke-width="1" />
<path d="M327.5 581.7 L337.5 587.0 L364.0 579.0 L352.5 574.5 Z" fill="#fff" stroke="#000" stroke-width="1" />
<path d="M327.5 581.7 L327.5 607.3 L337.5 613.0 L337.5 587.0 Z" fill="#fff" stroke="#000" stroke-width="1.1" />
<path d="M337.5 587.0 L337.5 613.0 L364.0 606.2 L364.0 579.0 Z" fill="#fff" stroke="#000" stroke-width="1.1" />
<path d="M340.1 586.2 L340.1 612.3" fill="none" stroke="#000" stroke-width="1.5" />
<path d="M342.8 585.4 L342.8 611.6" fill="none" stroke="#000" stroke-width="1.5" />
<path d="M345.4 584.6 L345.4 611.0" fill="none" stroke="#000" stroke-width="1.5" />
<path d="M348.1 583.8 L348.1 610.3" fill="none" stroke="#000" stroke-width="1.5" />
<path d="M350.8 583.0 L350.8 609.6" fill="none" stroke="#000" stroke-width="1.5" />
<path d="M353.4 582.2 L353.4 608.9" fill="none" stroke="#000" stroke-width="1.5" />
<path d="M356.1 581.4 L356.1 608.2" fill="none" stroke="#000" stroke-width="1.5" />
<path d="M358.7 580.6 L358.7 607.6" fill="none" stroke="#000" stroke-width="1.5" />
<path d="M361.4 579.8 L361.4 606.9" fill="none" stroke="#000" stroke-width="1.5" />
<path d="M364.0 579.0 L364.0 606.2" fill="none" stroke="#000" stroke-width="2.4" />
<path d="M327.5 607.3 L337.5 613.0 L364.0 606.2" fill="none" stroke="#000" stroke-width="1.5" />
<path d="M327.0 608.5 L338.0 614.5 L341.0 613.5" fill="none" stroke="#000" stroke-width="1.3" />
<g transform="translate(288.8 617.0)">
<path d="M-1.8 -10 L4.6 -10.2 L7 -8.6 L7 -4.4 L3 -4.2 L-2.6 -5.2 Z" fill="#000" stroke="#000" stroke-width="0.8"/>
<path d="M-1 -7.3 Q2 -5.8 5.4 -7.2" fill="none" stroke="#fff" stroke-width="0.8"/>
<circle cx="-1.2" cy="-8.6" r="0.5" fill="#fff"/><circle cx="4.6" cy="-8.8" r="0.5" fill="#fff"/>
<ellipse cx="-0.6" cy="2" rx="7" ry="7.6" fill="#000" transform="rotate(-18 -0.6 2)"/>
<circle cx="-4.6" cy="-6" r="1.2" fill="#000"/>
<path d="M-4.8 -2.6 Q-2.4 -5 0.4 -4.6" fill="none" stroke="#fff" stroke-width="1"/>
<path d="M-3.2 0 Q-5.2 3.6 -3.6 7" fill="none" stroke="#fff" stroke-width="1.1"/>
<path d="M1.2 -3.4 L1.8 3.8" fill="none" stroke="#fff" stroke-width="1.7"/>
<path d="M-0.8 0.4 L-0.6 6.2" fill="none" stroke="#fff" stroke-width="0.8"/>
<path d="M4.6 -1.6 Q5.6 3 3.4 6.4 Q1.4 8.8 -1.8 8" fill="none" stroke="#fff" stroke-width="0.8" stroke-dasharray="1.6 1"/>
<path d="M-2.2 6.6 L-0.4 8.4" fill="none" stroke="#fff" stroke-width="0.8"/>
<path d="M-5.6 -2 L-3.4 -3.6" fill="none" stroke="#fff" stroke-width="0.7"/>
</g>
<g transform="translate(330.6 643.0)">
<path d="M-1.8 -10 L4.6 -10.2 L7 -8.6 L7 -4.4 L3 -4.2 L-2.6 -5.2 Z" fill="#000" stroke="#000" stroke-width="0.8"/>
<path d="M-1 -7.3 Q2 -5.8 5.4 -7.2" fill="none" stroke="#fff" stroke-width="0.8"/>
<circle cx="-1.2" cy="-8.6" r="0.5" fill="#fff"/><circle cx="4.6" cy="-8.8" r="0.5" fill="#fff"/>
<ellipse cx="-0.6" cy="2" rx="7" ry="7.6" fill="#000" transform="rotate(-18 -0.6 2)"/>
<circle cx="-4.6" cy="-6" r="1.2" fill="#000"/>
<path d="M-4.8 -2.6 Q-2.4 -5 0.4 -4.6" fill="none" stroke="#fff" stroke-width="1"/>
<path d="M-3.2 0 Q-5.2 3.6 -3.6 7" fill="none" stroke="#fff" stroke-width="1.1"/>
<path d="M1.2 -3.4 L1.8 3.8" fill="none" stroke="#fff" stroke-width="1.7"/>
<path d="M-0.8 0.4 L-0.6 6.2" fill="none" stroke="#fff" stroke-width="0.8"/>
<path d="M4.6 -1.6 Q5.6 3 3.4 6.4 Q1.4 8.8 -1.8 8" fill="none" stroke="#fff" stroke-width="0.8" stroke-dasharray="1.6 1"/>
<path d="M-2.2 6.6 L-0.4 8.4" fill="none" stroke="#fff" stroke-width="0.8"/>
<path d="M-5.6 -2 L-3.4 -3.6" fill="none" stroke="#fff" stroke-width="0.7"/>
</g>
<g transform="translate(397.8 619.0)">
<path d="M-1.8 -10 L4.6 -10.2 L7 -8.6 L7 -4.4 L3 -4.2 L-2.6 -5.2 Z" fill="#000" stroke="#000" stroke-width="0.8"/>
<path d="M-1 -7.3 Q2 -5.8 5.4 -7.2" fill="none" stroke="#fff" stroke-width="0.8"/>
<circle cx="-1.2" cy="-8.6" r="0.5" fill="#fff"/><circle cx="4.6" cy="-8.8" r="0.5" fill="#fff"/>
<ellipse cx="-0.6" cy="2" rx="7" ry="7.6" fill="#000" transform="rotate(-18 -0.6 2)"/>
<circle cx="-4.6" cy="-6" r="1.2" fill="#000"/>
<path d="M-4.8 -2.6 Q-2.4 -5 0.4 -4.6" fill="none" stroke="#fff" stroke-width="1"/>
<path d="M-3.2 0 Q-5.2 3.6 -3.6 7" fill="none" stroke="#fff" stroke-width="1.1"/>
<path d="M1.2 -3.4 L1.8 3.8" fill="none" stroke="#fff" stroke-width="1.7"/>
<path d="M-0.8 0.4 L-0.6 6.2" fill="none" stroke="#fff" stroke-width="0.8"/>
<path d="M4.6 -1.6 Q5.6 3 3.4 6.4 Q1.4 8.8 -1.8 8" fill="none" stroke="#fff" stroke-width="0.8" stroke-dasharray="1.6 1"/>
<path d="M-2.2 6.6 L-0.4 8.4" fill="none" stroke="#fff" stroke-width="0.8"/>
<path d="M-5.6 -2 L-3.4 -3.6" fill="none" stroke="#fff" stroke-width="0.7"/>
</g>
<path d="M423.4 414.8 L423.4 417.6 L481.7 451.6 L561.9 430.0 L561.9 426.8 L505.0 392.5 Z" fill="#fff" stroke="#000" stroke-width="1" />
<path d="M423.4 414.8 L505.0 392.5 L561.9 426.8 L481.7 448.4 Z" fill="#fff" stroke="#000" stroke-width="1" />
<path d="M423.4 414.8 L505.0 392.5" fill="none" stroke="#000" stroke-width="2.0" />
<path d="M481.7 448.4 L481.7 451.6" fill="none" stroke="#000" stroke-width="1" />
<path d="M483.0 450.3 L561.0 429.2" fill="none" stroke="#000" stroke-width="1.5" />
<ellipse cx="493.0" cy="419.2" rx="2.0" ry="1.5" fill="#000" stroke="#000" stroke-width="0.5"/>
<path d="M465.4 462.8 L465.4 467.2 L518.2 497.8 L518.2 494.5" fill="#fff" stroke="#000" stroke-width="1" />
<path d="M465.4 462.8 L476.2 459.2 L529.2 490.4 L518.2 494.5 Z" fill="#fff" stroke="#000" stroke-width="1" />
<path d="M529.2 490.4 L529.2 493.8 L527.0 494.6 L527.0 492.0" fill="none" stroke="#000" stroke-width="1" />
<path d="M518.2 494.5 L518.2 497.8 L520.0 497.2" fill="none" stroke="#000" stroke-width="1" />
<path d="M520.0 497.2 L520.8 494.0 L527.5 491.5" fill="none" stroke="#000" stroke-width="0.9" />
<path d="M466.0 465.0 L518.2 495.8" fill="none" stroke="#000" stroke-width="0.8" />
<ellipse cx="494.3" cy="475.3" rx="2.6" ry="1.2" fill="#fff" stroke="#000" stroke-width="0.8" transform="rotate(25 494.3 475.3)"/>
<ellipse cx="518.2" cy="489.4" rx="2.6" ry="1.2" fill="#fff" stroke="#000" stroke-width="0.8" transform="rotate(25 518.2 489.4)"/>
<path d="M542.8 467.3 L561.5 461 Q563.4 460.2 563 458 L562.4 455 Q561.8 452.6 559.5 452.6 Q557.3 452.4 557.6 450.2 Q558 448.2 560.5 447.6 L570.8 444.6" fill="none" stroke="#000" stroke-width="2.6"/>
<path d="M542.8 467.3 L561.5 461 Q563.4 460.2 563 458 L562.4 455 Q561.8 452.6 559.5 452.6 Q557.3 452.4 557.6 450.2 Q558 448.2 560.5 447.6 L570.8 444.6" fill="none" stroke="#fff" stroke-width="0.9"/>
<path d="M570.8 442.0 L577.6 441.6 L579.0 447.4 L574.2 450.0 L570.8 446.5 Z" fill="#fff" stroke="#000" stroke-width="1.1" />
<path d="M571.5 443.5 L574.5 449.0" fill="none" stroke="#000" stroke-width="1.4" />
<path d="M574.6 450.0 L576.2 454.2 L577.4 453.2 L576.6 449.4 Z" fill="#fff" stroke="#000" stroke-width="1.1" />
<path d="M518.5 504.2 L519.5 509 Q522.8 511.6 526 509 L527.2 504.2 Z" fill="#fff" stroke="#000" stroke-width="1.1"/>
<ellipse cx="522.8" cy="504.2" rx="4.4" ry="2.1" fill="#fff" stroke="#000" stroke-width="1.2"/>
<path d="M519.8 508.6 Q522.8 511.4 525.8 508.6 L525.4 510.6 Q522.8 512.6 520.2 510.6 Z" fill="#000" stroke="#000" stroke-width="0.8"/>
<path d="M511.3 519.6 L518.0 524.0 L518.0 526.0 L511.3 522.0 Z" fill="#fff" stroke="#000" stroke-width="1" />
<path d="M511.3 519.6 L514.5 518.6 L521.0 522.6 L518.0 524.0 Z" fill="#fff" stroke="#000" stroke-width="1" />
<path d="M518.0 524.0 L529.2 521.0 L529.2 523.4 L518.0 526.0 Z" fill="#fff" stroke="#000" stroke-width="1" />
<path d="M521.2 516.4 L526.5 519.8 L529.2 521.0 L524.0 522.4 L521.0 522.6" fill="#fff" stroke="#000" stroke-width="1" />
<path d="M521.2 516.4 L523.0 519.5 L521.5 521.0" fill="none" stroke="#000" stroke-width="1" />
<path d="M524.5 519.0 L527.0 521.5" fill="none" stroke="#000" stroke-width="1.2" />
<path d="M487.3 522.6 L487.3 527.8 A4.3 1.9 0 0 0 495.9 527.8 L495.9 522.6 Z" fill="#fff" stroke="#000" stroke-width="1.1"/>
<ellipse cx="491.6" cy="522.6" rx="4.3" ry="1.8" fill="#fff" stroke="#000" stroke-width="1.0"/>
<path d="M490 522.6 L490 517.5 L491 515.8 L492.6 515.8 L493.7 517.5 L493.7 522.6" fill="#fff" stroke="#000" stroke-width="1"/>
<path d="M487.3 527.8 A4.3 1.9 0 0 0 495.9 527.8" fill="none" stroke="#000" stroke-width="2"/>
<g transform="rotate(-5 492.4 552.2)">
<rect x="477.4" y="549" width="30" height="6.4" rx="3.2" fill="#fff" stroke="#000" stroke-width="1.6"/>
<rect x="480.6" y="551.2" width="23.6" height="2" rx="1" fill="#fff" stroke="#000" stroke-width="0.9"/>
</g>
<path d="M240.3 236.7 L246.0 233.6 L251.7 232.0 L256.5 234.6 L260.0 237.6 L254.0 240.0 L247.0 241.7 L243.5 239.4 Z" fill="#000" stroke="#000" stroke-width="1.2" />
<circle cx="243.2" cy="234.8" r="0.9" fill="#000"/>
<circle cx="248.6" cy="232.6" r="0.9" fill="#000"/>
<circle cx="254.6" cy="233.2" r="0.9" fill="#000"/>
<circle cx="258.2" cy="239.4" r="0.9" fill="#000"/>
<circle cx="251.0" cy="241.4" r="0.9" fill="#000"/>
<circle cx="244.4" cy="240.6" r="0.9" fill="#000"/>
<circle cx="260.6" cy="238" r="0.9" fill="#000"/>
<circle cx="246.5" cy="236.2" r="0.4" fill="#fff"/>
<circle cx="250.5" cy="235.0" r="0.4" fill="#fff"/>
<circle cx="253.5" cy="237.6" r="0.4" fill="#fff"/>
<circle cx="248.6" cy="239.0" r="0.4" fill="#fff"/>
<circle cx="256.4" cy="236.6" r="0.4" fill="#fff"/>
<circle cx="251.4" cy="238.6" r="0.4" fill="#fff"/>
<path d="M236.0 255.5 L250.3 250.9 L261.0 256.9 L247.0 262.5 Z" fill="#fff" stroke="#000" stroke-width="1.8" />
<path d="M236.0 251.3 L250.3 246.7 L261.0 252.7 L247.0 258.3 Z" fill="#fff" stroke="#000" stroke-width="1.8" />
<ellipse cx="248.6" cy="252.4" rx="7.4" ry="3.2" fill="#fff" stroke="#000" stroke-width="1.2" transform="rotate(3 248.6 252.4)"/>
<ellipse cx="248.6" cy="251.6" rx="4.2" ry="1.7" fill="#fff" stroke="#000" stroke-width="1.1" transform="rotate(3 248.6 251.6)"/>
<path d="M241.5 254.5 Q248 258.5 256 254" fill="none" stroke="#000" stroke-width="1.2"/>
<circle cx="238.2" cy="251.5" r="0.9" fill="#000"/>
<circle cx="250.3" cy="248.0" r="0.9" fill="#000"/>
<circle cx="259.0" cy="252.8" r="0.9" fill="#000"/>
<circle cx="247.0" cy="257.0" r="0.9" fill="#000"/>
<path d="M258.5 540.6 L262.2 540.2 L262.2 549.4 L258.5 549.6 Z" fill="#000" stroke="#000" stroke-width="0.8" />
<path d="M259.6 545.2 L261.4 545.1" fill="none" stroke="#fff" stroke-width="1.0" />
<path d="M258.7 540.5 L259.2 539.6" fill="none" stroke="#000" stroke-width="1.0" />
<path d="M264.2 542.0 L268.0 541.6 L268.0 552.2 L264.2 552.6 Z" fill="#000" stroke="#000" stroke-width="0.8" />
<path d="M265.2 547.6 L267.2 547.5" fill="none" stroke="#fff" stroke-width="1.0" />
<path d="M265.4 543.4 L267.0 543.3" fill="none" stroke="#fff" stroke-width="0.7" />
<path d="M262.2 541.4 L264.8 540.4 L266.0 542.0" fill="none" stroke="#000" stroke-width="0.9" />
<path d="M268 544.2 L271 543.6 Q272.8 544.4 272.8 546.6 L272.6 549.2 L268 549.8" fill="#fff" stroke="#000" stroke-width="1.1"/>
<path d="M279.5 532.0 L287.0 530.0 L293.8 533.6 L293.8 537.2 L286.5 539.3 L279.5 535.6 Z" fill="#fff" stroke="#000" stroke-width="1.1" />
<path d="M279.5 532.0 L286.5 535.6 L293.8 533.6" fill="none" stroke="#000" stroke-width="1" />
<path d="M286.5 535.6 L286.5 539.3" fill="none" stroke="#000" stroke-width="1" />
<path d="M280.5 533.2 L285.5 535.8 L285.5 538.2 L280.5 535.6 Z" fill="#000" stroke="#000" stroke-width="0.8" />
<path d="M116.0 116.5 L345.0 116.5" fill="none" stroke="#000" stroke-width="1.0" />
<path d="M116.0 147.5 L246.0 147.5 L314.0 171.0" fill="none" stroke="#000" stroke-width="1.0" />
<path d="M116.0 201.5 L231.3 201.5 L299.0 216.0" fill="none" stroke="#000" stroke-width="1.0" />
<path d="M116.0 236.5 L240.0 236.5" fill="none" stroke="#000" stroke-width="1.0" />
<path d="M116.0 254.5 L237.0 254.5" fill="none" stroke="#000" stroke-width="1.0" />
<path d="M116.0 275.5 L338.0 275.5" fill="none" stroke="#000" stroke-width="1.0" />
<path d="M116.0 305.5 L144.4 305.5 L201.0 330.0" fill="none" stroke="#000" stroke-width="1.0" />
<path d="M116.0 322.5 L141.0 322.5 L171.0 335.0" fill="none" stroke="#000" stroke-width="1.0" />
<path d="M116.0 425.5 L135.0 425.5" fill="none" stroke="#000" stroke-width="1.0" />
<path d="M116.0 528.5 L140.0 528.5 L165.0 521.6" fill="none" stroke="#000" stroke-width="1.0" />
<path d="M116.0 549.5 L194.0 549.5 L236.0 532.7" fill="none" stroke="#000" stroke-width="1.0" />
<path d="M116.0 561.5 L204.7 561.5 L278.0 520.7" fill="none" stroke="#000" stroke-width="1.0" />
<path d="M116.0 582.5 L211.3 582.5 L260.7 547.3" fill="none" stroke="#000" stroke-width="1.0" />
<path d="M116.0 598.5 L228.0 598.5 L288.0 540.0" fill="none" stroke="#000" stroke-width="1.0" />
<path d="M116.0 622.5 L235.3 622.5 L276.7 589.5" fill="none" stroke="#000" stroke-width="1.0" />
<path d="M116.0 649.5 L325.0 649.5" fill="none" stroke="#000" stroke-width="1.0" />
<path d="M600.8 248.5 L427.0 248.5 L394.0 230.5" fill="none" stroke="#000" stroke-width="1.0" />
<path d="M600.8 274.5 L463.5 274.5 L342.5 260.4" fill="none" stroke="#000" stroke-width="1.0" />
<path d="M600.8 304.5 L386.0 304.5" fill="none" stroke="#000" stroke-width="1.0" />
<path d="M600.8 345.5 L396.7 345.5" fill="none" stroke="#000" stroke-width="1.0" />
<path d="M600.8 370.5 L500.8 370.5 L372.0 419.5" fill="none" stroke="#000" stroke-width="1.0" />
<path d="M600.5 463.5 L557.3 463.5" fill="none" stroke="#000" stroke-width="1.0" />
<path d="M600.5 494.5 L558.0 494.5 L526.0 505.0" fill="none" stroke="#000" stroke-width="1.0" />
<path d="M600.5 519.5 L556.0 519.5 L524.8 511.3" fill="none" stroke="#000" stroke-width="1.0" />
<path d="M600.5 543.5 L550.7 543.5 L494.0 530.8" fill="none" stroke="#000" stroke-width="1.0" />
<path d="M600.5 567.5 L521.9 567.5 L496.0 555.3" fill="none" stroke="#000" stroke-width="1.0" />
<path d="M600.5 594.5 L518.7 594.5 L415.0 542.0" fill="none" stroke="#000" stroke-width="1.0" />
<path d="M600.5 628.5 L510.7 628.5 L411.0 596.2" fill="none" stroke="#000" stroke-width="1.0" />
</svg>
</body></html>
